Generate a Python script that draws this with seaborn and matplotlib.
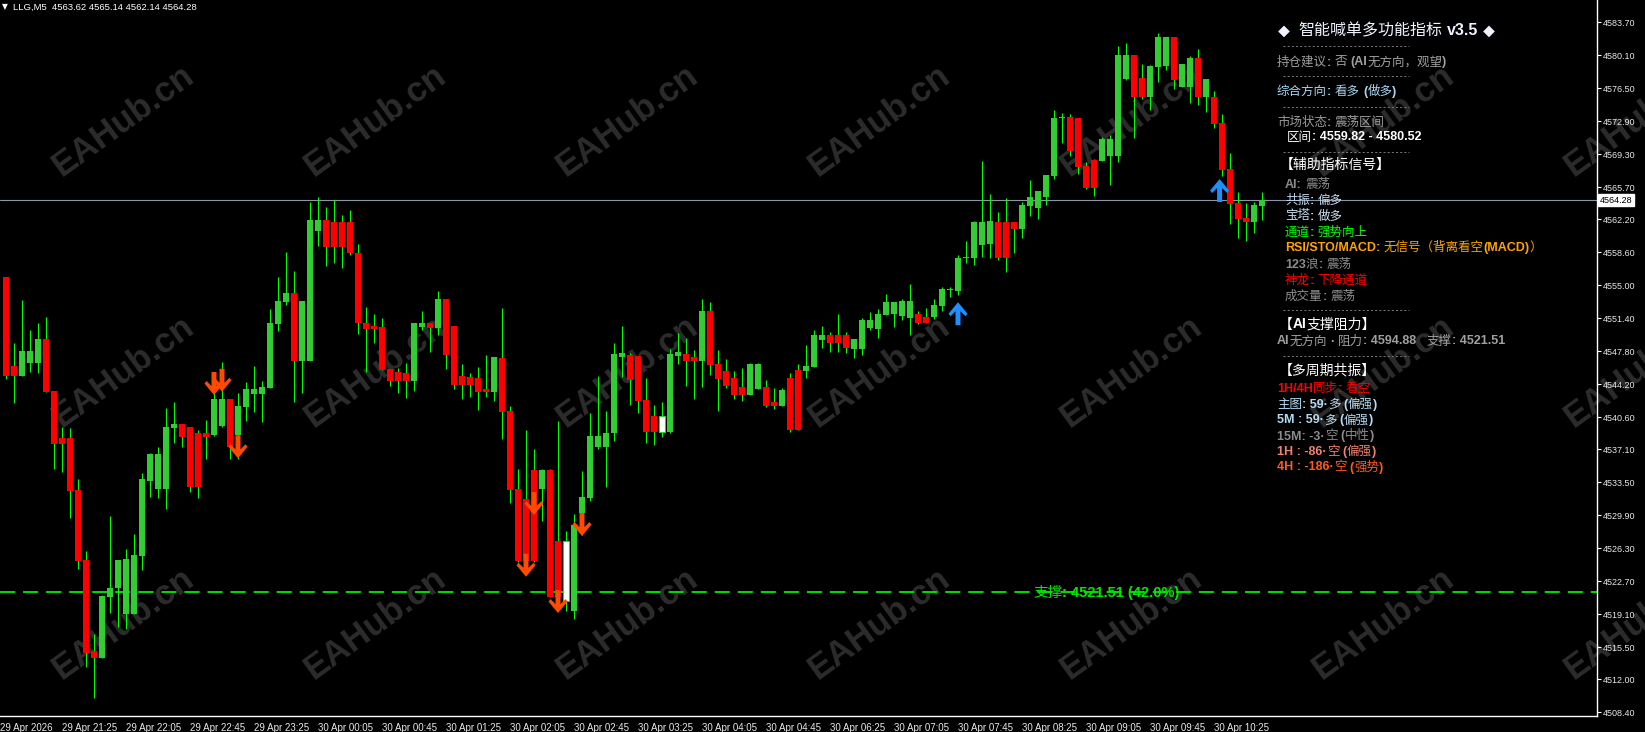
import numpy as np
import pandas as pd
import seaborn as sns
import matplotlib
matplotlib.use("Agg")
import matplotlib.pyplot as plt
from matplotlib.path import Path
from matplotlib.lines import Line2D
from matplotlib.transforms import blended_transform_factory

# ---- data (LLG, M5) ----
opens = [4555.85, 4546.18, 4545.12, 4546.47, 4546.47, 4549.12, 4543.45, 4538.32, 4538.29, 4532.65,
         4525.02, 4515.06, 4514.36, 4520.95, 4521.93, 4519.16, 4519.16, 4525.48, 4533.67, 4532.76,
         4532.76, 4539.45, 4539.85, 4539.52, 4538.87, 4538.87, 4538.65, 4539.63, 4542.58, 4538.65,
         4541.70, 4543.16, 4543.16, 4543.78, 4550.79, 4553.16, 4554.14, 4546.72, 4546.72, 4560.90,
         4562.10, 4561.88, 4561.88, 4561.88, 4558.47, 4550.83, 4550.54, 4550.46, 4545.82, 4545.55,
         4545.45, 4544.57, 4550.46, 4550.83, 4550.35, 4553.48, 4550.54, 4545.12, 4545.01, 4544.84,
         4543.67, 4543.34, 4547.05, 4541.27, 4532.76, 4531.67, 4534.83, 4532.76, 4534.83, 4527.09,
         4520.57, 4519.45, 4530.14, 4531.81, 4537.37, 4537.37, 4538.84, 4547.19, 4547.34, 4547.27,
         4542.47, 4540.72, 4538.98, 4538.98, 4547.27, 4547.52, 4547.16, 4546.75, 4552.18, 4546.40,
         4545.63, 4544.87, 4543.89, 4543.01, 4543.67, 4543.89, 4542.28, 4541.81, 4544.87, 4545.74,
         4545.66, 4546.10, 4549.01, 4549.56, 4549.56, 4549.56, 4548.03, 4548.03, 4550.32, 4550.21,
         4551.77, 4551.85, 4551.66, 4551.45, 4551.85, 4551.52, 4551.52, 4552.72, 4554.47, 4554.39,
         4557.96, 4557.92, 4559.37, 4559.45, 4561.92, 4561.92, 4561.92, 4561.15, 4563.66, 4563.44,
         4564.58, 4566.90, 4573.23, 4573.31, 4573.23, 4568.03, 4568.65, 4568.57, 4569.08, 4569.08,
         4577.45, 4580.10, 4577.56, 4575.55, 4578.82, 4578.93, 4582.06, 4576.64, 4576.64, 4579.77,
         4575.55, 4575.55, 4572.72, 4567.67, 4563.96, 4562.35, 4561.92, 4563.62]
highs = [4555.88, 4548.65, 4553.38, 4550.10, 4550.83, 4551.52, 4543.45, 4539.52, 4539.41, 4533.85,
         4526.00, 4516.91, 4521.20, 4529.81, 4525.02, 4526.18, 4527.85, 4534.47, 4536.69, 4537.34,
         4541.56, 4542.25, 4539.85, 4539.52, 4539.20, 4540.29, 4545.55, 4546.61, 4542.58, 4543.23,
         4544.43, 4546.18, 4544.54, 4552.39, 4555.88, 4558.61, 4556.54, 4553.27, 4564.07, 4564.61,
         4563.55, 4564.28, 4562.65, 4563.19, 4559.48, 4552.58, 4551.85, 4551.38, 4545.82, 4545.96,
         4546.47, 4550.83, 4552.18, 4550.83, 4554.36, 4553.48, 4550.54, 4546.40, 4545.38, 4546.10,
         4547.38, 4547.19, 4552.50, 4541.81, 4534.94, 4539.20, 4537.12, 4534.94, 4534.94, 4540.18,
         4528.18, 4530.00, 4534.76, 4541.08, 4545.12, 4541.27, 4548.72, 4550.54, 4547.56, 4547.27,
         4544.83, 4541.92, 4542.25, 4547.99, 4549.81, 4549.20, 4547.92, 4553.45, 4553.16, 4547.92,
         4546.94, 4545.63, 4545.96, 4546.50, 4546.50, 4544.65, 4543.78, 4543.74, 4545.38, 4546.40,
         4548.47, 4550.10, 4550.54, 4549.89, 4551.85, 4549.89, 4549.12, 4551.38, 4552.03, 4552.39,
         4554.03, 4553.13, 4553.48, 4555.12, 4552.14, 4552.50, 4553.45, 4554.79, 4554.79, 4558.28,
         4559.84, 4562.03, 4568.54, 4564.94, 4562.94, 4564.47, 4561.92, 4564.07, 4566.47, 4565.27,
         4567.01, 4574.10, 4573.74, 4573.63, 4573.23, 4568.40, 4568.72, 4571.19, 4571.37, 4581.12,
         4581.44, 4580.10, 4579.12, 4579.01, 4582.47, 4582.06, 4582.06, 4579.12, 4579.99, 4580.75,
         4577.48, 4576.17, 4573.63, 4569.41, 4565.12, 4563.99, 4564.10, 4565.14]
lows = [4544.76, 4542.17, 4545.09, 4545.55, 4545.45, 4543.37, 4534.97, 4534.65, 4529.63, 4524.03,
        4513.38, 4510.00, 4514.29, 4519.27, 4517.67, 4517.52, 4519.16, 4523.92, 4531.92, 4531.81,
        4530.61, 4537.81, 4537.37, 4532.47, 4531.81, 4536.06, 4538.54, 4539.56, 4536.06, 4536.06,
        4540.18, 4541.16, 4540.07, 4543.78, 4549.99, 4552.83, 4542.25, 4543.26, 4546.72, 4559.27,
        4557.12, 4557.44, 4556.90, 4558.28, 4549.63, 4545.55, 4548.72, 4545.74, 4544.03, 4543.26,
        4542.72, 4543.48, 4550.10, 4547.74, 4549.56, 4545.85, 4543.67, 4542.58, 4542.83, 4541.38,
        4542.83, 4542.36, 4538.21, 4531.27, 4524.83, 4524.83, 4524.83, 4529.30, 4520.95, 4519.78,
        4519.48, 4518.55, 4527.74, 4531.48, 4537.12, 4533.01, 4538.03, 4545.01, 4541.92, 4541.08,
        4537.74, 4537.56, 4538.43, 4538.87, 4546.40, 4543.99, 4542.61, 4543.92, 4545.19, 4541.30,
        4543.74, 4542.61, 4542.39, 4543.01, 4543.67, 4541.74, 4541.45, 4541.81, 4538.98, 4539.20,
        4544.90, 4546.10, 4548.14, 4547.70, 4547.70, 4547.63, 4547.05, 4547.41, 4550.10, 4549.23,
        4551.77, 4550.46, 4551.19, 4549.56, 4550.76, 4550.83, 4551.30, 4552.21, 4553.74, 4553.92,
        4557.44, 4557.19, 4558.10, 4557.99, 4557.74, 4556.46, 4558.47, 4560.17, 4562.57, 4562.21,
        4563.74, 4566.61, 4570.47, 4569.08, 4567.12, 4565.48, 4564.72, 4568.57, 4565.92, 4568.46,
        4577.37, 4571.01, 4575.27, 4574.10, 4577.19, 4578.46, 4576.39, 4576.58, 4574.90, 4574.65,
        4573.92, 4572.10, 4566.90, 4561.67, 4560.17, 4559.84, 4560.72, 4562.14]
closes = [4545.12, 4545.12, 4547.81, 4547.81, 4549.12, 4543.37, 4537.67, 4537.67, 4532.57, 4524.94,
          4514.84, 4514.36, 4521.09, 4521.96, 4525.02, 4525.12, 4525.56, 4533.85, 4536.58, 4536.58,
          4539.52, 4539.85, 4538.43, 4533.01, 4533.01, 4538.43, 4542.58, 4542.58, 4537.37, 4541.81,
          4543.67, 4543.67, 4543.89, 4550.87, 4553.27, 4554.14, 4546.72, 4553.27, 4562.10, 4562.10,
          4559.16, 4559.19, 4559.19, 4558.47, 4550.83, 4550.21, 4550.21, 4545.74, 4544.57, 4544.57,
          4544.57, 4550.83, 4550.83, 4550.35, 4553.48, 4547.38, 4544.10, 4544.10, 4544.10, 4543.34,
          4543.34, 4547.13, 4541.19, 4532.65, 4524.91, 4524.91, 4524.91, 4534.83, 4520.95, 4520.95,
          4527.09, 4528.83, 4531.92, 4538.54, 4538.54, 4538.90, 4547.49, 4547.63, 4544.65, 4542.36,
          4539.01, 4539.01, 4540.72, 4547.49, 4547.70, 4546.75, 4546.75, 4552.18, 4546.29, 4544.76,
          4544.03, 4543.01, 4543.01, 4546.40, 4546.40, 4541.81, 4541.81, 4543.56, 4539.20, 4539.20,
          4546.18, 4549.56, 4549.56, 4548.69, 4548.69, 4548.14, 4549.12, 4551.19, 4551.19, 4551.85,
          4553.13, 4553.13, 4553.27, 4553.27, 4550.83, 4550.83, 4552.83, 4554.58, 4554.47, 4557.96,
          4557.96, 4561.92, 4561.92, 4562.00, 4557.99, 4557.99, 4561.15, 4563.74, 4564.64, 4565.27,
          4567.01, 4573.23, 4573.23, 4569.66, 4567.92, 4565.63, 4565.63, 4570.97, 4570.97, 4580.10,
          4580.10, 4575.55, 4575.55, 4578.90, 4582.06, 4582.06, 4577.37, 4579.12, 4579.77, 4575.55,
          4577.48, 4572.61, 4567.56, 4563.88, 4562.21, 4561.92, 4563.77, 4564.28]
white_bars = [70, 82]

tick_bars = [-0.72, 7, 15, 23, 31, 39, 47, 55, 63, 71, 79, 87, 95, 103, 111, 119, 127, 135, 143, 151]
tick_labels = ["29 Apr 2026", "29 Apr 21:25", "29 Apr 22:05", "29 Apr 22:45", "29 Apr 23:25",
               "30 Apr 00:05", "30 Apr 00:45", "30 Apr 01:25", "30 Apr 02:05", "30 Apr 02:45",
               "30 Apr 03:25", "30 Apr 04:05", "30 Apr 04:45", "30 Apr 06:25", "30 Apr 07:05",
               "30 Apr 07:45", "30 Apr 08:25", "30 Apr 09:05", "30 Apr 09:45", "30 Apr 10:25"]
price_ticks = [4583.70, 4580.10, 4576.50, 4572.90, 4569.30, 4565.70, 4562.20, 4558.60, 4555.00,
               4551.40, 4547.80, 4544.20, 4540.60, 4537.10, 4533.50, 4529.90, 4526.30, 4522.70,
               4519.10, 4515.50, 4512.00, 4508.40]
last_price = 4564.28
support = 4521.51

down_arrow_bars = [26, 27, 29, 65, 66, 69, 72]
down_arrow_tips = [4543.01, 4543.37, 4536.11, 4523.19, 4529.92, 4519.23, 4527.63]
up_arrow_bars = [119, 151.7]
up_arrow_tips = [4553.13, 4566.57]

panel_lines = [
    # (x, y_center, text, color, size)
    (1278, 29.5, "◆ 智能喊单多功能指标 v3.5 ◆", "#eef4ff", 11.5),
    (1277, 61, "持仓建议: 否 (AI无方向，观望)", "#a0a0a0", 9),
    (1277, 90.7, "综合方向: 看多 (做多)", "#aad4ee", 9),
    (1277, 121.7, "市场状态: 震荡区间", "#9a9a9a", 9),
    (1287, 136, "区间: 4559.82 - 4580.52", "#ffffff", 9),
    (1280, 164.3, "【辅助指标信号】", "#ffffff", 10),
    (1285, 183.3, "AI: 震荡", "#8c8c8c", 9),
    (1285, 199.3, "共振: 偏多", "#c0d8ec", 9),
    (1285, 215, "宝塔: 做多", "#c8dcf0", 9),
    (1285, 231, "通道: 强势向上", "#00ff00", 9),
    (1285, 246.7, "RSI/STO/MACD: 无信号（背离看空(MACD)）", "#ffa500", 9),
    (1285, 263.3, "123浪: 震荡", "#8c8c8c", 9),
    (1285, 279, "神龙: 下降通道", "#ff0000", 9),
    (1285, 295, "成交量: 震荡", "#8c8c8c", 9),
    (1279, 323.5, "【AI支撑阻力】", "#ffffff", 10),
    (1277, 340, "AI无方向 · 阻力: 4594.88   支撑: 4521.51", "#a0a0a0", 9),
    (1279, 369.3, "【多周期共振】", "#ffffff", 10),
    (1277, 387.3, "1H/4H同步: 看空", "#ff0000", 9),
    (1277, 403.3, "主图: 59·多 (偏强)", "#b4dcf5", 9),
    (1277, 419, "5M : 59·多 (偏强)", "#b4dcf5", 9),
    (1277, 435, "15M: -3·空 (中性)", "#8c8c8c", 9),
    (1277, 450.7, "1H : -86·空 (偏强)", "#f08070", 9),
    (1277, 466, "4H : -186·空 (强势)", "#ff5a1e", 9),
]
separator_rows = [46, 76, 106.7, 152, 310, 356]

df = pd.DataFrame({"bar": np.arange(len(opens)), "open": opens, "high": highs,
                   "low": lows, "close": closes})

sns.set_theme(style="dark", rc={"axes.facecolor": "black", "figure.facecolor": "black",
                                "axes.edgecolor": "white", "xtick.color": "white",
                                "ytick.color": "white", "lines.scale_dashes": False})
LATIN = ["Liberation Sans", "DejaVu Sans"]
NARROW = ["Liberation Sans Narrow", "Liberation Sans", "DejaVu Sans"]
CJK = ["Noto Sans CJK SC", "DejaVu Sans"]
plt.rcParams["font.family"] = LATIN

W, H = 1645, 732
fig = plt.figure(figsize=(W / 100, H / 100), dpi=100)
ax = fig.add_axes([0, (H - 716) / H, 1597 / W, 716 / H])
ax.set_xlim(-0.75, 198.875)
ax.set_ylim(4508.00, 4586.10)
ax.grid(False)
renderer = fig.canvas.get_renderer()

# watermark
for cy in [121, 372, 624]:
    for cx in [123, 375, 627, 879, 1131, 1383, 1635]:
        ax.text(cx / W, 1 - cy / H, "EAHub.cn", transform=fig.transFigure, rotation=36,
                rotation_mode="anchor", ha="center", va="center", fontsize=25,
                fontweight="bold", color="#2c2c2c", zorder=0.5, clip_on=False)

# price line and support
ax.axhline(last_price, color="#8c96a8", lw=0.8, zorder=1.5)
ax.axhline(support, color="#00dd00", lw=1.4, dashes=(10.8, 5.8), zorder=1.5)

# candles
ax.vlines(df["bar"], df["low"], df["high"], color="#00ff00", lw=0.75, zorder=2)
body_lo = np.minimum(df["open"], df["close"])
body_h = np.maximum(np.abs(df["close"] - df["open"]), 0.11)
cols = np.where(df["close"] >= df["open"], "#32cd32", "#ff0000")
is_white = df["bar"].isin(white_bars).to_numpy()
ax.bar(df["bar"][~is_white], body_h[~is_white], bottom=body_lo[~is_white], width=0.66,
       color=cols[~is_white], linewidth=0, zorder=3)
ax.bar(df["bar"][is_white], body_h[is_white], bottom=body_lo[is_white], width=0.66,
       color="white", edgecolor="#32cd32", linewidth=0.8, zorder=3)

# signal arrows (shape in pixels, tip at origin)
dn = [(-2.5, 23), (2.5, 23), (2.5, 9), (7.5, 14), (9.5, 11.5), (0, 0), (-9.5, 11.5),
      (-7.5, 14), (-2.5, 9), (-2.5, 23)]
down_marker = Path(dn, closed=True)
up_marker = Path([(x, -y) for x, y in dn], closed=True)
sns.scatterplot(x=down_arrow_bars, y=down_arrow_tips, marker=down_marker, s=1097,
                color="#ff4a00", edgecolor="none", linewidth=0, ax=ax, zorder=5, legend=False)
sns.scatterplot(x=up_arrow_bars, y=up_arrow_tips, marker=up_marker, s=1097,
                color="#1e8fff", edgecolor="none", linewidth=0, ax=ax, zorder=5, legend=False)

# axes styling
for s in ["top", "left"]:
    ax.spines[s].set_visible(False)
for s in ["right", "bottom"]:
    ax.spines[s].set_color("white")
    ax.spines[s].set_linewidth(1)
ax.yaxis.tick_right()
ax.set_yticks(price_ticks, labels=[f"{v:.2f}" for v in price_ticks])
ax.set_xticks(tick_bars, labels=tick_labels)
ax.tick_params(axis="y", length=3, width=0.8, pad=1.5, labelsize=6.5, labelcolor="#e8e8e8")
ax.tick_params(axis="x", length=4, width=0.8, pad=0.8, labelsize=7, labelcolor="#e8e8e8")
for lbl in ax.get_xticklabels():
    lbl.set_horizontalalignment("left")
    lbl.set_family(NARROW)

blend = blended_transform_factory(ax.transAxes, ax.transData)
ax.text(1 + 3 / 1597, last_price, f"{last_price:.2f}", transform=blend, fontsize=6.5,
        color="black", va="center", ha="left", clip_on=False, zorder=10,
        bbox=dict(boxstyle="square,pad=0.2", fc="white", ec="white"))


def runs(x, y, text, color, size):
    pieces = []
    for ch in text:
        a = ord(ch) < 256
        if pieces and pieces[-1][1] == a and ch != "◆" and pieces[-1][0] != "◆":
            pieces[-1][0] += ch
        else:
            pieces.append([ch, a])
    sp = 0.278 * size * 100 / 72
    for s, a in pieces:
        x += (len(s) - len(s.lstrip(" "))) * sp
        core = s.strip(" ")
        if core:
            fs = size * 0.75 if core == "◆" else size
            t = fig.text(x / W, 1 - y / H, core, color=color, fontsize=fs,
                         family=LATIN if a else CJK, fontweight="bold" if a else "normal",
                         va="baseline", ha="left", zorder=6)
            x = t.get_window_extent(renderer).x1
        x += (len(s) - len(s.rstrip(" "))) * sp


for x, y, text, color, size in panel_lines:
    runs(x, y + 0.36 * size * 100 / 72, text, color, size)
for y in separator_rows:
    fig.add_artist(Line2D([1283 / W, 1409 / W], [1 - y / H, 1 - y / H], color="#777777",
                          lw=0.7, dashes=(1.5, 1.5), zorder=6))

runs(1033, 597, "支撑: 4521.51 (42.0%)", "#00e600", 10.5)

# header
fig.text(2 / W, 1 - 9.5 / H, "▼", fontsize=5.5, color="white", family=["DejaVu Sans"],
         va="baseline")
fig.text(13 / W, 1 - 9.5 / H, "LLG,M5  4563.62 4565.14 4562.14 4564.28", fontsize=6.8,
         color="white", va="baseline")

fig.savefig("out.png", dpi=100, facecolor="black")
